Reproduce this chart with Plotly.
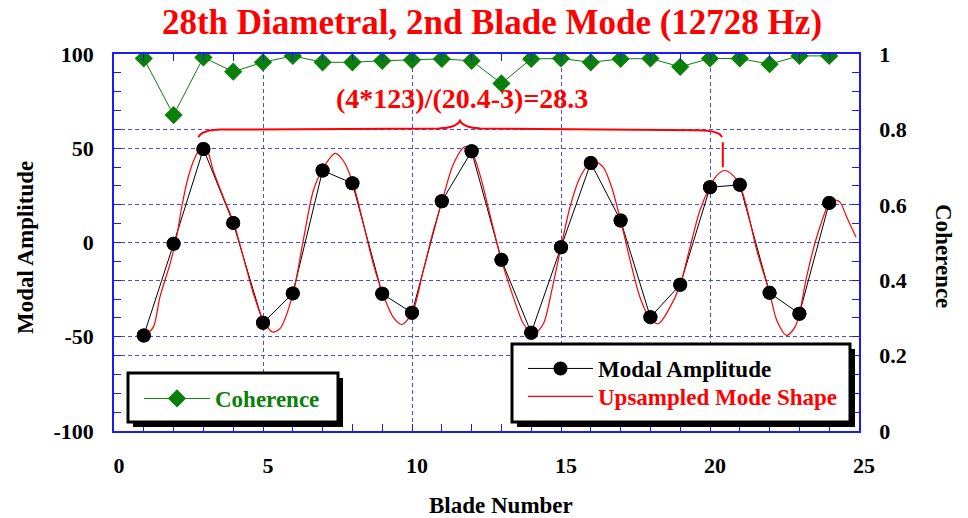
import plotly.graph_objects as go

# ---------------- data ----------------
blades = list(range(1, 25))
modal_amplitude = [-49.3, -0.7, 49.6, 10.4, -42.6, -27.0, 38.2, 31.4, -27.2, -37.3, 21.9, 48.4,
                   -9.2, -47.9, -2.5, 42.2, 11.7, -39.6, -22.4, 29.3, 30.6, -26.7, -37.8, 21.0]
coherence = [0.988, 0.838, 0.991, 0.953, 0.978, 0.995, 0.978, 0.978, 0.982, 0.984, 0.987, 0.982,
             0.922, 0.987, 0.988, 0.978, 0.987, 0.988, 0.966, 0.988, 0.988, 0.973, 0.995, 0.995]

# upsampled mode shape
up_x = [1.02, 1.32, 1.54, 1.88, 2.10, 2.27, 2.49, 2.72, 2.94, 3.11, 3.33, 3.67, 4.03, 4.34, 4.68,
        5.01, 5.32, 5.57, 6.01, 6.35, 6.69, 7.02, 7.42, 7.69, 8.02, 8.37, 8.70, 9.02, 9.37, 9.65,
        10.01, 10.38, 10.72, 11.01, 11.39, 11.78, 12.0, 12.28, 12.62, 13.0, 13.40, 13.74, 14.07,
        14.41, 14.69, 15.0, 15.30, 15.64, 16.07, 16.42, 16.70, 17.0, 17.32, 17.65, 17.99, 18.27,
        18.60, 19.0, 19.33, 19.66, 19.99, 20.22, 20.5, 20.78, 21.0, 21.23, 21.57, 22.0, 22.24,
        22.57, 22.85, 23.0, 23.24, 23.58, 24.0, 24.14, 24.36, 24.59, 24.9]
up_y = [-49.8, -44.9, -29.0, -11.3, 2.8, 18.7, 34.6, 45.2, 50.9, 49.6, 38.2, 24.0, 9.9, -7.8, -27.2,
        -41.3, -47.5, -45.7, -27.0, 1.1, 27.6, 39.5, 47.3, 43.5, 31.4, 9.9, -11.3, -27.2, -39.6, -43.5,
        -37.3, -14.8, 6.4, 21.9, 41.7, 50.9, 48.4, 36.0, 14.5, -9.2, -29.0, -43.1, -48.8,
        -43.1, -25.4, -2.5, 18.7, 34.6, 43.5, 39.9, 29.3, 11.7, -9.5, -29.0, -40.4, -43.1,
        -36.0, -22.4, -2.5, 17.0, 29.3, 35.5, 38.2, 35.5, 30.6, 18.7, -4.2, -26.7, -41.3,
        -49.3, -44.9, -37.8, -18.4, 2.8, 21.0, 22.6, 21.4, 13.4, 2.8]

y_tickvals = [-100, -50, 0, 50, 100]
y_ticktext = ["-100", "-50", "0", "50", "100"]
y2_tickvals = [0, 0.2, 0.4, 0.6, 0.8, 1]
y2_ticktext = ["0", "0.2", "0.4", "0.6", "0.8", "1"]

title_text = "28th Diametral, 2nd Blade Mode (12728 Hz)"
formula_text = "(4*123)/(20.4-3)=28.3"
brace_x0, brace_tip, brace_x1 = 2.83, 11.61, 20.4

# ---------------- styling ----------------
FONT = "Liberation Serif, Times New Roman, serif"
BLUE = "#1a1aff"
GRID = "#4a4af0"
GREEN = "#0a800a"
RED = "#ff0000"

# plot area in pixels (for layout helpers)
PX0, PX1, PY0, PY1 = 114, 859, 54, 431


def px_x(p):
    return (p - PX0) / (PX1 - PX0)


def px_y(p):
    return (PY1 - p) / (PY1 - PY0)


fig = go.Figure()

fig.add_trace(go.Scatter(
    x=blades, y=modal_amplitude, mode="lines+markers", name="<b>Modal Amplitude</b>",
    line=dict(color="black", width=1), marker=dict(color="black", size=14),
    legend="legend2"))
fig.add_trace(go.Scatter(
    x=up_x, y=up_y, mode="lines", name="<b>Upsampled Mode Shape</b>",
    line=dict(color=RED, width=1.2, shape="spline", smoothing=0.8), legend="legend3"))
fig.add_trace(go.Scatter(
    x=blades, y=modal_amplitude, mode="markers", showlegend=False,
    marker=dict(color="black", size=14), hoverinfo="skip"))
fig.add_trace(go.Scatter(
    x=blades, y=coherence, mode="lines+markers", name="<b>Coherence</b>", yaxis="y2",
    line=dict(color=GREEN, width=1), marker=dict(color=GREEN, symbol="diamond", size=14),
    legend="legend"))

tickfont = dict(family=FONT, size=22, color="black", weight="bold")
common_axis = dict(ticks="inside", ticklen=7, tickcolor=BLUE, tickwidth=1, showline=True,
                   linecolor=BLUE, linewidth=1.5, showgrid=True, gridcolor=GRID,
                   griddash="4px,3px", gridwidth=1, zeroline=False, tickfont=tickfont,
                   ticklabelstandoff=14)


def legend_box(x_px, top_px, color, width):
    return dict(x=px_x(x_px), y=px_y(top_px), xanchor="left", yanchor="top",
                bgcolor="rgba(0,0,0,0)", borderwidth=0, itemwidth=width,
                font=dict(family=FONT, size=23, color=color))


fig.update_layout(
    width=968, height=518,
    margin=dict(l=PX0, r=968 - PX1, t=PY0, b=518 - PY1),
    paper_bgcolor="white", plot_bgcolor="white",
    font=dict(family=FONT, color="black"),
    title=dict(text="<b>" + title_text + "</b>", x=492 / 968, xanchor="center",
               yref="container", y=1 - 22 / 518, yanchor="middle",
               font=dict(family=FONT, size=35, color=RED)),
    xaxis=dict(range=[0, 25], dtick=5, tick0=0, mirror="ticks", ticklabelshift=5,
               minor=dict(dtick=1, ticks="inside", ticklen=7, tickcolor=BLUE, showgrid=False),
               **common_axis),
    yaxis=dict(range=[-100, 100], tickvals=y_tickvals, ticktext=y_ticktext,
               minor=dict(dtick=10, ticks="inside", ticklen=7, tickcolor=BLUE, showgrid=False),
               **common_axis),
    yaxis2=dict(range=[0, 1], tickvals=y2_tickvals, ticktext=y2_ticktext, overlaying="y",
                side="right",
                minor=dict(dtick=0.05, ticks="inside", ticklen=7, tickcolor=BLUE, showgrid=False),
                **common_axis),
    legend=legend_box(139, 377, GREEN, 66),
    legend2=legend_box(523, 347, "black", 65),
    legend3=legend_box(523, 375, RED, 65),
    showlegend=True,
)

# legend boxes with drop shadow
for (bx0, by0, bx1, by1) in [(128, 373, 338, 422), (512, 344, 850, 422)]:
    fig.add_shape(type="rect", xref="paper", yref="paper",
                  x0=px_x(bx0 + 5), x1=px_x(bx1 + 5), y0=px_y(by1 + 5), y1=px_y(by0 + 5),
                  fillcolor="black", line=dict(width=0), layer="above")
    fig.add_shape(type="rect", xref="paper", yref="paper",
                  x0=px_x(bx0), x1=px_x(bx1), y0=px_y(by1), y1=px_y(by0),
                  fillcolor="white", line=dict(color="black", width=3), layer="above")

# brace
brace_path = (f"M {brace_x0},55.8 Q 2.95,59.8 3.6,59.9 L 10.9,60.5 "
              f"Q 11.5,61 {brace_tip},64.6 Q 11.72,61 12.3,60.5 L 19.6,59.6 "
              f"Q 20.35,59.4 {brace_x1},55.8")
fig.add_shape(type="path", xref="x", yref="y", path=brace_path,
              line=dict(color=RED, width=2))
fig.add_shape(type="line", xref="x", yref="y", x0=brace_x1 + 0.03, x1=brace_x1 + 0.03,
              y0=53.2, y1=39.9, line=dict(color=RED, width=2))

fig.add_annotation(x=11.68, y=76.3, xref="x", yref="y", text="<b>" + formula_text + "</b>",
                   showarrow=False, font=dict(family=FONT, size=28, color=RED))

axis_font = dict(family=FONT, size=23, color="black", weight="bold")
fig.add_annotation(x=px_x(25), y=px_y(248), xref="paper", yref="paper", xanchor="center",
                   yanchor="middle", text="<b>Modal Amplitude</b>", textangle=-90,
                   showarrow=False, font=axis_font)
fig.add_annotation(x=px_x(943), y=px_y(256), xref="paper", yref="paper", xanchor="center",
                   yanchor="middle", text="<b>Coherence</b>", textangle=90,
                   showarrow=False, font=axis_font)
fig.add_annotation(x=px_x(501), y=px_y(505), xref="paper", yref="paper", xanchor="center",
                   yanchor="middle", text="<b>Blade Number</b>", showarrow=False, font=axis_font)

fig.write_html("out.html")
